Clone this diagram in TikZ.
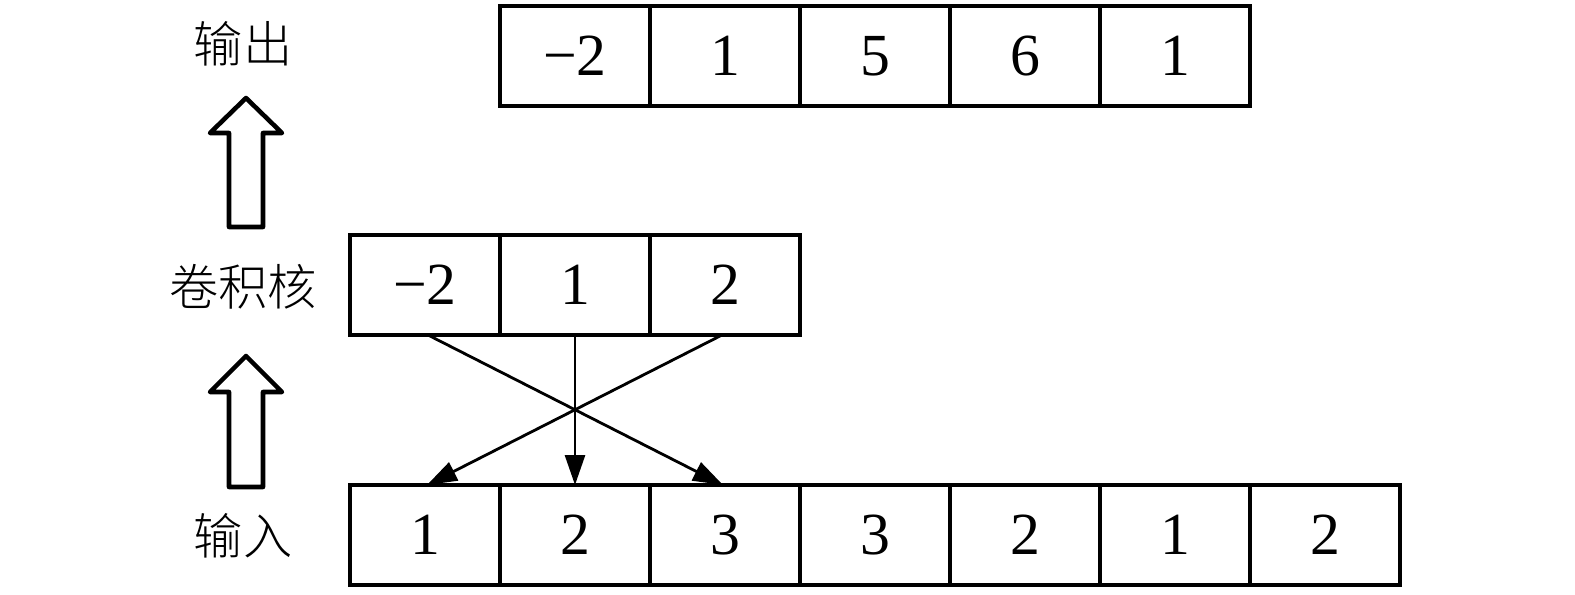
\documentclass[tikz,border=0pt]{standalone}
\usepackage{fontspec}
\setmainfont{Liberation Serif}
\newfontfamily\cjk{Noto Sans CJK SC}[UprightFont=* Light]
\usetikzlibrary{positioning,arrows.meta}

\tikzset{
	cell/.style={draw,line width=1pt,minimum width=1.5cm,minimum height=1cm,inner sep=0,outer sep=0,font=\fontsize{17}{20}\selectfont},
	lbl/.style={font=\cjk\fontsize{14}{16}\selectfont,inner sep=0},
	flow/.style={line width=0.8pt,-{Triangle[length=0.3cm,width=0.2cm]}},
	bigarrow/.style={draw,line width=1.3pt,line join=round,fill=white}
}

\begin{document}
\begin{tikzpicture}
	\useasboundingbox (0,0) rectangle (15.75,5.94);
	% output row
	\node[cell] (o1) at (5.75,5.38) {−2};
	\node[cell,right=0pt of o1] (o2) {1};
	\node[cell,right=0pt of o2] (o3) {5};
	\node[cell,right=0pt of o3] (o4) {6};
	\node[cell,right=0pt of o4] (o5) {1};
	% kernel row
	\node[cell] (k1) at (4.25,3.09) {−2};
	\node[cell,right=0pt of k1] (k2) {1};
	\node[cell,right=0pt of k2] (k3) {2};
	% input row
	\node[cell] (i1) at (4.25,0.59) {1};
	\node[cell,right=0pt of i1] (i2) {2};
	\node[cell,right=0pt of i2] (i3) {3};
	\node[cell,right=0pt of i3] (i4) {3};
	\node[cell,right=0pt of i4] (i5) {2};
	\node[cell,right=0pt of i5] (i6) {1};
	\node[cell,right=0pt of i6] (i7) {2};
	% labels
	\node[lbl] (out) at (2.43,5.5) {输出};
	\node[lbl] (ker) at (2.43,3.07) {卷积核};
	\node[lbl] (in) at (2.43,0.58) {输入};
	% hollow arrows
	\draw[bigarrow] (2.29,3.67) -- (2.29,4.61) -- (2.10,4.61) -- (2.46,4.96) -- (2.82,4.61) -- (2.63,4.61) -- (2.63,3.67) -- cycle;
	\draw[bigarrow] (2.29,1.07) -- (2.29,2.02) -- (2.10,2.02) -- (2.46,2.38) -- (2.82,2.02) -- (2.63,2.02) -- (2.63,1.07) -- cycle;
	% kernel to input
	\draw[flow] ([xshift=0.03cm]k1.south) -- ([xshift=-0.02cm]i3.north);
	\draw[flow] (k2.south) -- (i2.north);
	\draw[flow] ([xshift=-0.03cm]k3.south) -- ([xshift=0.02cm]i1.north);
\end{tikzpicture}
\end{document}
